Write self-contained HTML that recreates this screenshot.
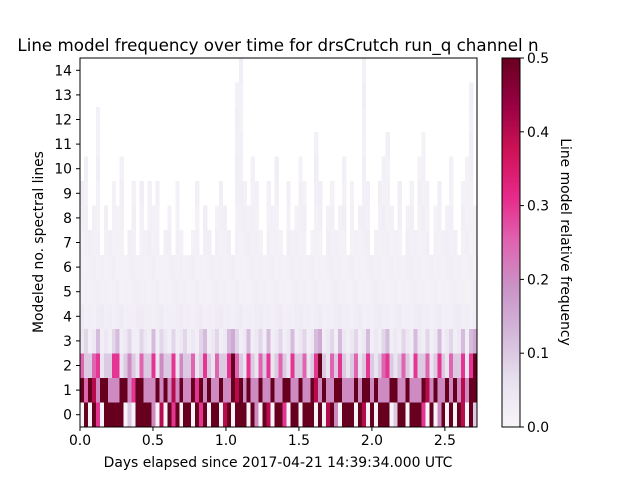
<!DOCTYPE html>
<html><head><meta charset="utf-8"><style>
body{margin:0;background:#fff;}
svg text{font-family:"DejaVu Sans","Liberation Sans",sans-serif;fill:#000;}
</style></head><body>
<svg id="chart" width="640" height="480" xmlns="http://www.w3.org/2000/svg">
<defs><linearGradient id="cmap" x1="0" y1="1" x2="0" y2="0">
<stop offset="0" stop-color="#f7f4f9"/><stop offset="0.125" stop-color="#e7e1ef"/><stop offset="0.25" stop-color="#d4b9da"/><stop offset="0.375" stop-color="#c994c7"/><stop offset="0.5" stop-color="#df65b0"/><stop offset="0.625" stop-color="#e7298a"/><stop offset="0.75" stop-color="#ce1256"/><stop offset="0.875" stop-color="#980043"/><stop offset="1" stop-color="#67001f"/>
</linearGradient></defs>
<g id="cells"></g>
<rect x="80" y="58" width="397" height="369" fill="none" stroke="#000" stroke-width="1"/>
<g id="axes"></g>
<text x="278" y="51" font-size="16.7" text-anchor="middle">Line model frequency over time for drsCrutch run_q channel n</text>
<text x="278" y="467" font-size="13.9" text-anchor="middle">Days elapsed since 2017-04-21 14:39:34.000 UTC</text>
<text transform="translate(43,242) rotate(-90)" font-size="13.9" text-anchor="middle">Modeled no. spectral lines</text>
<rect x="502" y="58" width="18" height="369" fill="url(#cmap)" stroke="#000" stroke-width="1"/>
<g id="cbaxis"></g>
<text transform="translate(561,242) rotate(90)" font-size="13.9" text-anchor="middle">Line model relative frequency</text>
</svg>
<script>
const xTicks=[0,0.5,1,1.5,2,2.5];
const xTickLabels=["0.0","0.5","1.0","1.5","2.0","2.5"];
const yTicks=[0,1,2,3,4,5,6,7,8,9,10,11,12,13,14];
const cTicks=[0,0.1,0.2,0.3,0.4,0.5];
const cTickLabels=["0.0","0.1","0.2","0.3","0.4","0.5"];
const binWidth=0.0272;
const row0=[0,.5,0,.5,.3,0,.5,.5,.5,.5,.5,0,.1,0,.5,.5,.5,.5,.2,0,.4,0,.5,.3,.5,0,.5,.5,0,.5,.3,.5,0,.5,.5,0,.4,.5,0,.5,.5,.5,0,.5,.2,0,.5,.4,0,.5,.5,.3,0,.5,.5,0,.5,.5,.5,0,.5,0,.4,.5,.2,0,.5,.5,.5,0,.5,.4,0,.5,0,.5,.5,.5,0,.1,.5,.5,0,.5,.5,.5,.3,0,.5,0,.2,.5,0,.5,0,.5,.4,0,.5,.1];
const row1=[.5,.25,.5,.4,.2,.5,.5,.2,.2,.2,.5,.5,.2,.3,.5,.5,.2,.2,.2,.5,.2,.5,.2,.4,.2,.5,.2,.2,.5,.3,.5,.2,.5,.2,.2,.5,.2,.2,.5,.4,.5,.2,.5,.2,.2,.5,.2,.2,.5,.2,.2,.5,.5,.2,.2,.5,.2,.2,.5,.4,.2,.5,.2,.2,.5,.5,.2,.2,.2,.5,.2,.5,.5,.2,.5,.2,.2,.2,.5,.5,.2,.2,.5,.2,.2,.2,.5,.4,.2,.5,.2,.2,.5,.2,.5,.2,.4,.2,.5,.5];
const row2=[.25,.1,.1,.25,.3,.05,.1,.1,.3,.3,.05,.1,.2,.1,.05,.25,.1,.1,.3,.05,.2,.1,.1,.3,.05,.2,.1,.1,.25,.05,.1,.3,.1,.05,.25,.1,.1,.3,.5,.25,.1,.05,.3,.1,.05,.25,.1,.3,.05,.1,.25,.1,.05,.3,.1,.1,.25,.05,.1,.3,.5,.1,.05,.25,.1,.3,.1,.05,.1,.25,.05,.1,.3,.1,.05,.1,.25,.3,.1,.05,.1,.25,.1,.05,.3,.1,.1,.25,.05,.1,.3,.1,.05,.25,.1,.1,.3,.05,.3,.5];
const row3=[.04,.08,.02,.04,.12,.02,.04,.02,.08,.12,.02,.04,.08,.02,.02,.08,.04,.02,.12,.02,.08,.04,.02,.08,.02,.04,.08,.02,.04,.02,.08,.12,.02,.04,.08,.02,.04,.12,.15,.08,.02,.04,.12,.02,.04,.08,.02,.12,.02,.04,.08,.02,.04,.12,.02,.04,.08,.02,.04,.12,.15,.02,.04,.08,.02,.12,.04,.02,.04,.08,.02,.04,.12,.02,.04,.02,.08,.12,.02,.04,.02,.08,.04,.02,.12,.04,.02,.08,.02,.04,.12,.02,.04,.08,.02,.04,.12,.02,.12,.15];
const topRow=[9,10,7,8,12,6,8,7,9,8,10,6,7,9,6,9,7,9,8,9,6,7,8,6,9,7,6,6,7,9,6,8,7,6,8,9,8,7,6,13,14,9,8,10,9,7,6,9,8,10,7,6,9,7,8,10,9,6,7,11,9,6,8,9,7,8,10,6,9,7,8,14,9,6,7,9,10,11,8,7,9,6,8,9,7,10,11,9,6,8,9,7,8,10,7,6,9,10,13,8];
const upperValue=[.012,.015,.01,.014,.02,.01,.013,.011,.016,.02];
const X=d=>80+d*(397/2.72);
const Y=r=>427-(r+0.5)*(369/15);
const stops=[[0,[247,244,249]],[.0625,[231,225,239]],[.125,[212,185,218]],[.1875,[201,148,199]],[.25,[223,101,176]],[.3125,[231,41,138]],[.375,[206,18,86]],[.4375,[152,0,67]],[.5,[103,0,31]]];
function color(v){v=Math.max(0,Math.min(.5,v));for(let i=1;i<stops.length;i++){if(v<=stops[i][0]){const a=stops[i-1],b=stops[i],t=(v-a[0])/(b[0]-a[0]);const c=a[1].map((x,k)=>Math.round(x+(b[1][k]-x)*t));return `rgb(${c})`;}}return 'rgb(103,0,31)';}
const NS="http://www.w3.org/2000/svg";
const cells=document.getElementById('cells');
const rows=[row0,row1,row2,row3];
for(let i=0;i<row0.length;i++){
  const x0=X(i*binWidth),x1=X((i+1)*binWidth);
  for(let r=0;r<=topRow[i];r++){
    let v;
    if(r<4) v=rows[r][i]; else v=upperValue[(i+r)%upperValue.length]*(r==4?1.6:1);
    const rc=document.createElementNS(NS,'rect');
    
    
    rc.setAttribute('x',x0);rc.setAttribute('width',x1-x0+0.3);
    rc.setAttribute('y',Y(r+0.5));rc.setAttribute('height',369/15+0.3);
    rc.setAttribute('fill',color(v));rc.setAttribute('shape-rendering','crispEdges');
    cells.appendChild(rc);
  }
}
const axes=document.getElementById('axes');
function add(parent,tag,attrs,txt){const e=document.createElementNS(NS,tag);for(const k in attrs)e.setAttribute(k,attrs[k]);if(txt!==undefined)e.textContent=txt;parent.appendChild(e);return e;}
xTicks.forEach((t,i)=>{
  const l=add(axes,'line',{x1:X(t),x2:X(t),y1:427,y2:431,stroke:'#000'});
  
  
  const tx=add(axes,'text',{x:X(t),y:445,'font-size':13.9,'text-anchor':'middle'},xTickLabels[i]);
  
  
});
yTicks.forEach(t=>{
  const l=add(axes,'line',{x1:76,x2:80,y1:Y(t),y2:Y(t),stroke:'#000'});
  
  
  const tx=add(axes,'text',{x:72,y:Y(t)+5,'font-size':13.9,'text-anchor':'end'},String(t));
  
  
});
const cb=document.getElementById('cbaxis');
const CY=v=>427-v/0.5*369;
cTicks.forEach((t,i)=>{
  const l=add(cb,'line',{x1:520,x2:524,y1:CY(t),y2:CY(t),stroke:'#000'});
  
  
  const tx=add(cb,'text',{x:527,y:CY(t)+5,'font-size':13.9},cTickLabels[i]);
  
  
});
</script>
</body></html>
